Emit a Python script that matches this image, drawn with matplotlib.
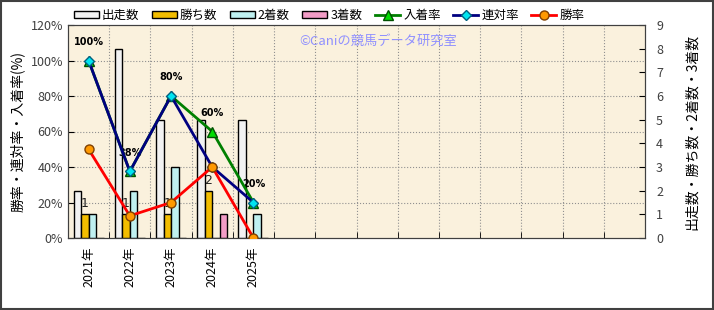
import numpy as np
import matplotlib.pyplot as plt
from matplotlib.patches import Rectangle

plt.rcParams['font.family'] = ['Noto Sans CJK JP', 'DejaVu Sans']

# data
years = ['2021年', '2022年', '2023年', '2024年', '2025年']
n_slots = 14
starts = [2, 8, 5, 5, 5]
wins = [1, 1, 1, 2, 0]
seconds = [1, 2, 3, 0, 1]
thirds = [0, 0, 0, 1, 0]
place_rate = [100, 37.5, 80, 60, 20]
top2_rate = [100, 37.5, 80, 40, 20]
win_rate = [50, 12.5, 20, 40, 0]
rate_labels = ['100%', '38%', '80%', '60%', '20%']

fig = plt.figure(figsize=(7.14, 3.10), dpi=100)
fig.patches.append(Rectangle((0.001, 0.002), 0.997, 0.995, transform=fig.transFigure,
                             fill=False, edgecolor='#404040', linewidth=1.5))

ax = fig.add_axes([68/714, 1-238/310, (645-68)/714, (238-25)/310])
ax.set_facecolor('#faf1dd')
axp = ax.twinx()
axp.set_zorder(ax.get_zorder() + 1)
axp.patch.set_visible(False)

x = np.arange(len(years))
bw = 0.182
bar_kw = dict(width=bw, edgecolor='black', linewidth=1, zorder=3)
ax.bar(x - 1.5*bw, starts, color='#f2f2f2', label='出走数', **bar_kw)
ax.bar(x - 0.5*bw, wins, color='#f2bd00', label='勝ち数', **bar_kw)
ax.bar(x + 0.5*bw, seconds, color='#bff0f0', label='2着数', **bar_kw)
ax.bar(x + 1.5*bw, thirds, color='#f29cc6', label='3着数', **bar_kw)

for xi, w in zip(x, wins):
    if w > 0:
        ax.annotate(str(w), (xi - 0.5*bw, w), xytext=(0, 3), textcoords='offset points',
                    ha='center', va='bottom', fontsize=9, color='#202020',
                    family='DejaVu Sans', zorder=4)

ax.set_xlim(-0.5, n_slots - 0.5)
ax.set_ylim(0, 9)
ax.yaxis.tick_right()
ax.yaxis.set_label_position('right')
ax.set_yticks(range(10))
ax.set_ylabel('出走数・勝ち数・2着数・3着数', rotation=90, fontsize=10, labelpad=16)

# grid lines
for p in range(20, 120, 20):
    ax.axhline(p / 120 * 9, color='#909090', linestyle=':', linewidth=0.8, zorder=1)
for b in np.arange(0.5, n_slots - 0.5, 1):
    ax.axvline(b, color='#909090', linestyle=':', linewidth=0.8, zorder=1)

ax.set_xticks(np.arange(n_slots))
ax.set_xticklabels(years + [''] * (n_slots - len(years)), rotation=90, fontsize=9)
ax.set_xticks(np.arange(-0.5, n_slots, 1), minor=True)
ax.tick_params(axis='x', which='major', length=0, pad=6)
ax.tick_params(axis='x', which='minor', direction='in', length=4)
ax.tick_params(axis='y', direction='in', length=4, labelsize=9, labelcolor='#404040', pad=8)

# rate lines
axp.plot(x, place_rate, color='#008000', linewidth=2, marker='^', markersize=7,
         markerfacecolor='#00dd00', markeredgecolor='#005000', label='入着率', zorder=5)
axp.plot(x, top2_rate, color='#000080', linewidth=2, marker='D', markersize=5,
         markerfacecolor='#00e5f0', markeredgecolor='#006080', label='連対率', zorder=6)
axp.plot(x, win_rate, color='#ff0000', linewidth=2, marker='o', markersize=6.5,
         markerfacecolor='#ff9900', markeredgecolor='#804000', label='勝率', zorder=7)

for xi, v, t in zip(x, place_rate, rate_labels):
    axp.annotate(t, (xi, v), xytext=(0, 10), textcoords='offset points', ha='center',
                 va='bottom', fontsize=7, fontweight='bold', family='DejaVu Sans')

axp.set_ylim(0, 120)
axp.set_yticks(range(0, 121, 20))
axp.set_yticklabels(['%d%%' % v for v in range(0, 121, 20)])
axp.yaxis.tick_left()
axp.yaxis.set_label_position('left')
axp.set_ylabel('勝率・連対率・入着率(%)', fontsize=10, labelpad=4)
axp.tick_params(axis='y', direction='in', length=4, labelsize=9, labelcolor='#404040')

for a in (ax, axp):
    for s in a.spines.values():
        s.set_color('#404040')

axp.text(0.40, 0.925, '©Caniの競馬データ研究室', transform=axp.transAxes,
         fontsize=9.5, color='#9090ff', ha='left', va='center')

h1, l1 = ax.get_legend_handles_labels()
h2, l2 = axp.get_legend_handles_labels()
fig.legend(h1 + h2, l1 + l2, ncol=7, loc='center', bbox_to_anchor=(329/714, 1-15/310),
           frameon=False, fontsize=9, handlelength=2.0, handleheight=0.5,
           columnspacing=1.0, handletextpad=0.25)

fig.savefig('out.png', dpi=100)
